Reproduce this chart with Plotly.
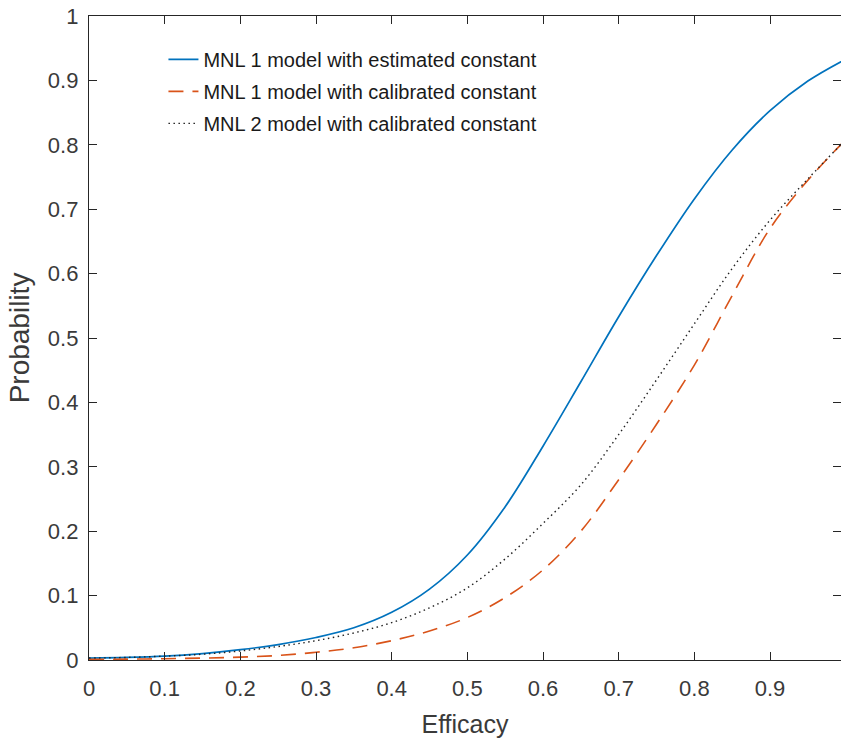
import plotly.graph_objects as go

efficacy = [0.0, 0.05, 0.1, 0.15, 0.2, 0.25, 0.3, 0.35, 0.4, 0.45, 0.5,
            0.55, 0.6, 0.65, 0.7, 0.75, 0.8, 0.85, 0.9, 0.95, 1.0]

mnl1_estimated = [0.003, 0.004, 0.006, 0.010, 0.016, 0.024, 0.035, 0.050, 0.074, 0.110, 0.163,
                  0.238, 0.332, 0.432, 0.533, 0.628, 0.716, 0.792, 0.853, 0.899, 0.933]

mnl1_calibrated = [0.001, 0.0013, 0.002, 0.003, 0.0045, 0.007, 0.012, 0.019, 0.030, 0.045, 0.066,
                   0.097, 0.140, 0.200, 0.280, 0.366, 0.458, 0.566, 0.670, 0.745, 0.808]

mnl2_calibrated = [0.003, 0.004, 0.006, 0.009, 0.014, 0.021, 0.030, 0.042, 0.058, 0.081, 0.112,
                   0.157, 0.212, 0.272, 0.350, 0.435, 0.522, 0.608, 0.683, 0.747, 0.808]

names = ["MNL 1 model with estimated constant",
         "MNL 1 model with calibrated constant",
         "MNL 2 model with calibrated constant"]

x_ticks = [0, 0.1, 0.2, 0.3, 0.4, 0.5, 0.6, 0.7, 0.8, 0.9, 1]
x_tick_labels = ["0", "0.1", "0.2", "0.3", "0.4", "0.5", "0.6", "0.7", "0.8", "0.9", "1"]
y_ticks = [0, 0.1, 0.2, 0.3, 0.4, 0.5, 0.6, 0.7, 0.8, 0.9, 1]
y_tick_labels = ["0", "0.1", "0.2", "0.3", "0.4", "0.5", "0.6", "0.7", "0.8", "0.9", "1"]

FONT = "Liberation Sans, Arial, Helvetica, sans-serif"
TXT = "#3a3a3a"
AX = "#262626"

fig = go.Figure()
fig.add_trace(go.Scatter(x=efficacy, y=mnl1_estimated, mode="lines", name=names[0],
                         legendgroup="a",
                         line=dict(color="#0072BD", width=1.7, shape="spline", smoothing=1.0)))
fig.add_trace(go.Scatter(x=efficacy, y=mnl1_calibrated, mode="lines", name=names[1],
                         legendgroup="b",
                         line=dict(color="#D95319", width=1.6, dash="15px,9px", shape="spline", smoothing=1.0)))
fig.add_trace(go.Scatter(x=efficacy, y=mnl2_calibrated, mode="lines", name=names[2],
                         legendgroup="c",
                         line=dict(color="#222222", width=1.4, dash="1.5px,3.5px", shape="spline", smoothing=1.0)))
# empty helper trace so the right-hand tick axis is rendered
fig.add_trace(go.Scatter(x=[None], y=[None], yaxis="y2", mode="lines",
                         showlegend=False, hoverinfo="skip"))

fig.update_layout(
    width=841, height=738,
    margin=dict(l=89, r=0, t=16, b=78),
    paper_bgcolor="white", plot_bgcolor="white",
    font=dict(family=FONT, color=TXT, size=22),
    showlegend=True,
    legend=dict(x=0.099, y=0.963, xanchor="left", yanchor="top",
                bgcolor="rgba(255,255,255,0)", borderwidth=0,
                font=dict(family=FONT, size=20, color="#1a1a1a"),
                tracegroupgap=3, itemwidth=30),
    xaxis=dict(range=[0, 0.9938], tickmode="array", tickvals=x_ticks, ticktext=x_tick_labels,
               ticks="inside", ticklen=8, tickwidth=1.3, tickcolor=AX,
               showline=True, linecolor=AX, linewidth=1.3, mirror="ticks",
               showgrid=False, zeroline=False, automargin=False,
               ticklabelstandoff=8, ticklabeloverflow="allow",
               tickfont=dict(size=22, color=TXT),
               title=dict(text="Efficacy", font=dict(size=25, color=TXT), standoff=15)),
    yaxis=dict(range=[0, 1], tickmode="array", tickvals=y_ticks, ticktext=y_tick_labels,
               ticks="inside", ticklen=8, tickwidth=1.3, tickcolor=AX,
               showline=True, linecolor=AX, linewidth=1.3, mirror=False,
               showgrid=False, zeroline=False, automargin=False,
               ticklabelstandoff=5, ticklabeloverflow="allow",
               tickfont=dict(size=22, color=TXT),
               title=dict(text="Probability", font=dict(size=28, color=TXT), standoff=10)),
    yaxis2=dict(range=[0, 1], overlaying="y", side="right", anchor="x",
                tickmode="array", tickvals=y_ticks, ticks="inside", ticklen=8,
                tickwidth=1.3, tickcolor=AX, showticklabels=False, automargin=False,
                showline=False, showgrid=False, zeroline=False),
)

fig.write_html("out.html", config={"displayModeBar": False},
               post_script="document.body.style.margin='0px';")
